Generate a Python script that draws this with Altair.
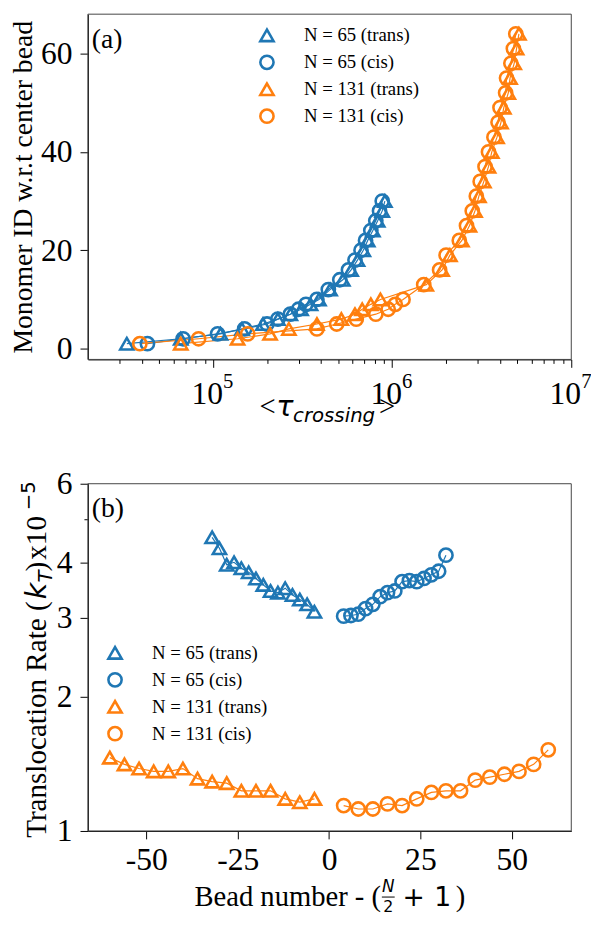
import altair as alt
import pandas as pd

SERIF = "Liberation Serif"
MATH = "DejaVu Sans"
BLUE = "#1f77b4"
ORANGE = "#ff7f0e"

series_names = ["N = 65 (trans)", "N = 65 (cis)", "N = 131 (trans)", "N = 131 (cis)"]
series_colors = [BLUE, BLUE, ORANGE, ORANGE]
series_shapes = ["triangle-up", "circle", "triangle-up", "circle"]

# ---------------- Panel (a): monomer ID vs <tau_crossing> ----------------
a65_id = [1, 2, 3, 4, 5, 6, 7, 8, 9, 10, 12, 14, 16, 18, 20, 22, 24, 26, 28, 30]
a65_trans_tau = [3.3e4, 6.6e4, 1.1e5, 1.45e5, 1.9e5, 2.3e5, 2.7e5, 3.1e5, 3.5e5, 3.9e5,
                 4.5e5, 5.3e5, 5.9e5, 6.4e5, 6.9e5, 7.3e5, 7.8e5, 8.3e5, 8.8e5, 9.1e5]
a65_cis_tau = [4.3e4, 6.8e4, 1.06e5, 1.5e5, 2.0e5, 2.3e5, 2.7e5, 3.0e5, 3.3e5, 3.8e5,
               4.4e5, 5.1e5, 5.7e5, 6.2e5, 6.7e5, 7.1e5, 7.6e5, 8.1e5, 8.5e5, 8.8e5]
a131_id = [1, 2, 3, 4, 5, 6, 7, 8, 9, 10, 13, 16, 19, 22, 25, 28, 31, 34, 37, 40,
           43, 46, 49, 52, 55, 58, 61, 64]
a131_trans_tau = [6.6e4, 1.37e5, 2.08e5, 2.65e5, 3.8e5, 5.2e5, 6.2e5, 6.8e5, 7.6e5, 8.6e5,
                  1.55e6, 1.9e6, 2.1e6, 2.45e6, 2.7e6, 2.9e6, 3.05e6, 3.25e6, 3.45e6, 3.6e6,
                  3.85e6, 4.05e6, 4.2e6, 4.45e6, 4.55e6, 4.8e6, 4.95e6, 5.1e6]
a131_cis_tau = [3.9e4, 8.3e4, 1.56e5, 3.8e5, 4.9e5, 6.3e5, 8.1e5, 9.5e5, 1.04e6, 1.15e6,
                1.5e6, 1.84e6, 2.0e6, 2.37e6, 2.6e6, 2.8e6, 2.95e6, 3.1e6, 3.3e6, 3.45e6,
                3.7e6, 3.9e6, 4.0e6, 4.3e6, 4.35e6, 4.6e6, 4.75e6, 4.9e6]

a_major_ticks = [1e5, 1e6, 1e7]
a_major_exp = ["5", "6", "7"]
a_minor_ticks = [3e4, 4e4, 5e4, 6e4, 7e4, 8e4, 9e4,
                 2e5, 3e5, 4e5, 5e5, 6e5, 7e5, 8e5, 9e5,
                 2e6, 3e6, 4e6, 5e6, 6e6, 7e6, 8e6, 9e6]
a_y_ticks = [0, 20, 40, 60]

# ---------------- Panel (b): translocation rate vs bead number ----------------
b65_trans_x = [-32, -30, -28, -26, -24, -22, -20, -18, -16, -14, -12, -10, -8, -6, -4]
b65_trans_y = [4.55, 4.3, 3.95, 4.0, 3.88, 3.8, 3.68, 3.56, 3.45, 3.42, 3.5, 3.38, 3.3, 3.22, 3.1]
b65_cis_x = [4, 6, 8, 10, 12, 14, 16, 18, 20, 22, 24, 26, 28, 30, 32]
b65_cis_y = [3.03, 3.04, 3.06, 3.15, 3.22, 3.35, 3.42, 3.45, 3.62, 3.64, 3.62, 3.68, 3.75, 3.82, 4.15]
b131_trans_x = [-60, -56, -52, -48, -44, -40, -36, -32, -28, -24, -20, -16, -12, -8, -4]
b131_trans_y = [1.46, 1.41, 1.38, 1.36, 1.36, 1.38, 1.31, 1.29, 1.28, 1.23, 1.23, 1.23, 1.18, 1.16, 1.18]
b131_cis_x = [4, 8, 12, 16, 20, 24, 28, 32, 36, 40, 44, 48, 52, 56, 60]
b131_cis_y = [1.14, 1.12, 1.12, 1.15, 1.14, 1.18, 1.22, 1.23, 1.23, 1.30, 1.32, 1.34, 1.36, 1.41, 1.52]

b_x_ticks = [-50, -25, 0, 25, 50]
b_y_ticks = [1, 2, 3, 4, 6]
b_y_minor = [5]

# ---------------- build tables ----------------
rows = []
for name, ids, taus in [(series_names[0], a65_id, a65_trans_tau),
                        (series_names[1], a65_id, a65_cis_tau),
                        (series_names[2], a131_id, a131_trans_tau),
                        (series_names[3], a131_id, a131_cis_tau)]:
    for i, t in zip(ids, taus):
        rows.append({"series": name, "id": i, "tau": t})
df_a = pd.DataFrame(rows)

rows = []
for name, xs, ys in [(series_names[0], b65_trans_x, b65_trans_y),
                     (series_names[1], b65_cis_x, b65_cis_y),
                     (series_names[2], b131_trans_x, b131_trans_y),
                     (series_names[3], b131_cis_x, b131_cis_y)]:
    for k, (x, y) in enumerate(zip(xs, ys)):
        rows.append({"series": name, "bead": x, "rate": y, "k": k})
df_b = pd.DataFrame(rows)

# ---------------- layout (pixels, relative to the plot origin) ----------------
W = 490
A_TOP, A_BOT = 0, 350        # panel (a) vertical extent
B_TOP, B_BOT = 476, 828      # panel (b) vertical extent
H = B_BOT

color_scale = alt.Scale(domain=series_names, range=series_colors)
shape_scale = alt.Scale(domain=series_names, range=series_shapes)
one = pd.DataFrame({"v": [0]})


def legend(lx, ly):
    return alt.Legend(orient="none", legendX=lx, legendY=ly, title=None,
                      labelFont=SERIF, labelFontSize=19, labelColor="black",
                      symbolSize=180, symbolStrokeWidth=2.6, rowPadding=3.3,
                      labelOffset=28, padding=0)


def txt(text, x, y, size, font=SERIF, style="normal", angle=0, align="left",
        baseline="alphabetic"):
    return alt.Chart(pd.DataFrame({"t": [text]})).mark_text(
        align=align, baseline=baseline, font=font, fontSize=size,
        fontStyle=style, angle=angle, color="black"
    ).encode(x=alt.value(x), y=alt.value(y), text="t:N")


def frame(y0, y1):
    return alt.Chart(one).mark_rect(fillOpacity=0, stroke="#444", strokeWidth=1).encode(
        x=alt.value(0), x2=alt.value(W), y=alt.value(y0), y2=alt.value(y1)
    )


# ---------------- panel (a) ----------------
xs_a = alt.Scale(type="log", domain=[2e4, 1e7], nice=False)
ys_a = alt.Scale(domain=[-2.2, 68], range=[A_BOT, A_TOP], nice=False, zero=False)
y_axis_a = alt.Axis(values=a_y_ticks, title="Monomer ID w.r.t center bead",
                    titlePadding=3, titleFontSize=28, format="d", orient="left")


def lines_top(names, col):
    return alt.Chart(df_a[df_a["series"].isin(names)]).mark_line(
        strokeWidth=1.2, color=col
    ).encode(
        x=alt.X("tau:Q", scale=xs_a, axis=None),
        y=alt.Y("id:Q", scale=ys_a, axis=y_axis_a),
        detail="series:N",
        order="id:Q",
    )


pts_a = alt.Chart(df_a).mark_point(filled=False, size=180, strokeWidth=2.6, opacity=1).encode(
    x=alt.X("tau:Q", scale=xs_a,
            axis=alt.Axis(values=a_major_ticks, labels=False, title=None, tickSize=8,
                          orient="bottom", offset=A_BOT - H)),
    y=alt.Y("id:Q", scale=ys_a, axis=y_axis_a),
    color=alt.Color("series:N", scale=color_scale, legend=legend(172, 12)),
    shape=alt.Shape("series:N", scale=shape_scale, legend=legend(172, 12)),
)
minor_a = alt.Chart(pd.DataFrame({"tau": a_minor_ticks})).mark_point(opacity=0, size=1).encode(
    x=alt.X("tau:Q", scale=xs_a,
            axis=alt.Axis(values=a_minor_ticks, labels=False, title=None, tickSize=4,
                          domain=False, orient="bottom", offset=A_BOT - H)),
    y=alt.value(A_BOT / 2),
)
tick_df = pd.DataFrame({"tau": a_major_ticks, "base": ["10"] * 3, "exp": a_major_exp})
tlab_base = alt.Chart(tick_df).mark_text(
    align="right", baseline="alphabetic", font=SERIF, fontSize=32, dx=10, color="black"
).encode(x=alt.X("tau:Q", scale=xs_a, axis=None), y=alt.value(A_BOT + 45), text="base:N")
tlab_exp = alt.Chart(tick_df).mark_text(
    align="left", baseline="alphabetic", font=SERIF, fontSize=21, dx=10, color="black"
).encode(x=alt.X("tau:Q", scale=xs_a, axis=None), y=alt.value(A_BOT + 29), text="exp:N")

top = alt.layer(
    frame(A_TOP, A_BOT),
    lines_top(series_names[:2], BLUE), lines_top(series_names[2:], ORANGE),
    pts_a, minor_a, tlab_base, tlab_exp,
    txt("(a)", 4, A_TOP + 34, 28),
    txt("<", 174, A_BOT + 57, 29),
    txt("τ", 191, A_BOT + 57, 29, font=MATH, style="italic"),
    txt("crossing", 208, A_BOT + 63, 20, font=MATH, style="italic"),
    txt(">", 295, A_BOT + 57, 29),
).resolve_axis(x="independent")

# ---------------- panel (b) ----------------
xs_b = alt.Scale(domain=[-66, 66.3], nice=False, zero=False)
ys_b = alt.Scale(type="log", domain=[1, 6], range=[B_BOT, B_TOP], nice=False)
x_axis_b = alt.Axis(values=b_x_ticks, title=None, labelExpr="'' + datum.value",
                    labelPadding=6, orient="bottom")


def lines_bot(names, col):
    return alt.Chart(df_b[df_b["series"].isin(names)]).mark_line(
        strokeWidth=1.2, color=col
    ).encode(
        x=alt.X("bead:Q", scale=xs_b, axis=x_axis_b),
        y=alt.Y("rate:Q", scale=ys_b, axis=None),
        detail="series:N",
        order="k:Q",
    )


pts_b = alt.Chart(df_b).mark_point(filled=False, size=180, strokeWidth=2.6, opacity=1).encode(
    x=alt.X("bead:Q", scale=xs_b, axis=x_axis_b),
    y=alt.Y("rate:Q", scale=ys_b,
            axis=alt.Axis(values=b_y_ticks, title=None, labelExpr="'' + datum.value",
                          orient="left")),
    color=alt.Color("series:N", scale=color_scale, legend=legend(18, B_TOP + 162)),
    shape=alt.Shape("series:N", scale=shape_scale, legend=legend(18, B_TOP + 162)),
)
minor_b = alt.Chart(pd.DataFrame({"rate": b_y_minor})).mark_point(opacity=0, size=1).encode(
    y=alt.Y("rate:Q", scale=ys_b,
            axis=alt.Axis(values=b_y_minor, labels=False, title=None, tickSize=4,
                          domain=False, orient="left")),
    x=alt.value(W / 2),
)
frac_bar = alt.Chart(one).mark_rule(color="black", strokeWidth=1).encode(
    x=alt.value(298), x2=alt.value(311), y=alt.value(B_BOT + 67)
)

bottom = alt.layer(
    frame(B_TOP, B_BOT),
    lines_bot(series_names[:2], BLUE), lines_bot(series_names[2:], ORANGE),
    pts_b, minor_b, frac_bar,
    txt("(b)", 4, B_TOP + 34, 28),
    txt("Bead number - (", 108, B_BOT + 76, 29),
    txt("N", 304.5, B_BOT + 62, 17, font=MATH, style="italic", align="center"),
    txt("2", 304.5, B_BOT + 82, 16, font=MATH, align="center"),
    txt("+", 319, B_BOT + 76, 27, font=MATH),
    txt("1", 351, B_BOT + 76, 27, font=MATH),
    txt(")", 373, B_BOT + 76, 29),
    txt("Translocation Rate (", -42, B_BOT + 7, 29.5, angle=270),
    txt("k", -42, 593, 29, font=MATH, style="italic", angle=270),
    txt("T", -36, 576, 20, font=MATH, style="italic", angle=270),
    txt(")", -42, 565, 29.5, angle=270),
    txt("x10", -42, 553, 29.5, angle=270),
    txt("−5", -54, 503, 20, font=MATH, angle=270),
).resolve_axis(y="independent")

chart = alt.layer(top, bottom).resolve_scale(
    x="independent", y="independent", color="independent", shape="independent"
).properties(
    width=W, height=H,
    autosize=alt.AutoSizeParams(type="none"),
    padding={"left": 81, "top": 0, "right": 20, "bottom": 84},
).configure_axis(
    labelFont=SERIF, labelFontSize=32, labelColor="black", tickColor="black",
    domainColor="black", titleFont=SERIF, titleFontSize=29, titleFontWeight="normal",
    titleColor="black", grid=False, tickSize=8, labelPadding=8, tickWidth=1, domainWidth=1
).configure_view(strokeWidth=0)

chart.save("out.html", embed_options={"renderer": "svg", "actions": False})
